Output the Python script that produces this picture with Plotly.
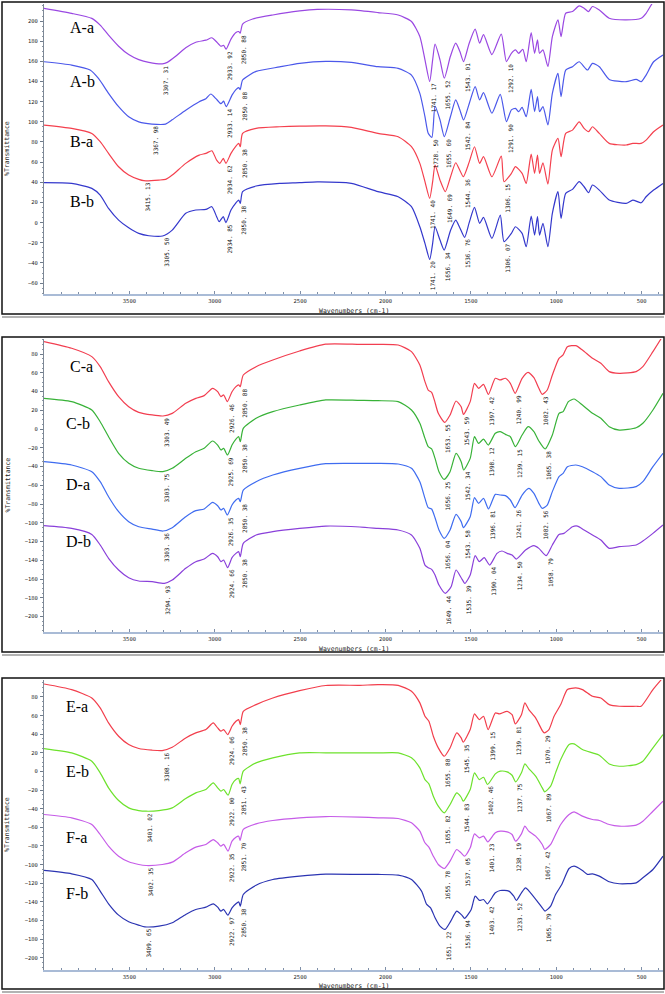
import plotly.graph_objects as go

# ---------------- data (wavenumber cm-1, %Transmittance with offsets) ----------------
WN_AA = [4000, 3838, 3720, 3671, 3622, 3563, 3504, 3445, 3386, 3307.31,
         3278, 3229, 3170, 3111, 3052, 3017, 2993, 2964, 2948, 2933.92,
         2905, 2876, 2860, 2850.88, 2837, 2778, 2660, 2503, 2400, 2200,
         2044, 1926, 1848, 1799, 1769, 1741.17, 1724, 1710, 1681, 1655.52,
         1620, 1589, 1565, 1543.01, 1510, 1475, 1449, 1426, 1377, 1322,
         1292.10, 1263, 1239, 1220, 1196, 1176, 1147, 1127, 1110, 1098,
         1078, 1049, 1023, 990, 972, 945, 905, 866, 837, 811,
         788, 748, 690, 591, 503, 474, 430, 380]
T_AA = [212.6, 207.6, 202.6, 196, 186, 175, 166.7, 161.7, 159, 157.5,
        159, 165, 173.5, 179, 181, 183.4, 180, 175, 176, 172,
        182, 188.6, 189.6, 188, 197, 202, 206, 210, 211.5, 211,
        208.4, 206, 199.5, 184.6, 161.5, 140, 161.5, 177, 161.5, 143.3,
        165, 178, 170, 159.8, 178, 192, 178, 186.5, 166.7, 187,
        159.8, 168, 171.4, 168, 172, 159.8, 188.6, 168, 181.3, 168,
        171.4, 154.9, 184.6, 201.2, 184.6, 207.7, 209.4, 215, 212.7, 209.4,
        214.4, 211, 202.8, 201.2, 202.8, 207.7, 219.3, 224]

WN_AB = [4000, 3838, 3730, 3681, 3622, 3563, 3504, 3445, 3367.98, 3288,
         3249, 3170, 3091, 3052, 3023, 2993, 2964, 2948, 2933.14, 2899,
         2876, 2860, 2850.88, 2837, 2758, 2620, 2503, 2350, 2200, 2044,
         1926, 1848, 1799, 1769, 1750, 1728.50, 1710, 1681, 1655.60, 1620,
         1589, 1565, 1542.84, 1510, 1475, 1449, 1426, 1377, 1328, 1291.90,
         1263, 1239, 1220, 1200, 1176, 1147, 1127, 1110, 1098, 1078,
         1049, 1023, 990, 972, 945, 905, 866, 817, 788, 748,
         690, 591, 532, 503, 474, 430, 375]
T_AB = [159.6, 156.3, 151.4, 143, 128.3, 115, 105, 100, 97.8, 97.8,
        102, 111.6, 120, 123, 127.6, 123, 118, 120.5, 115, 126.5,
        132, 134, 132, 141.5, 150, 154.5, 158, 160, 159, 154.7,
        153, 146.4, 128.2, 105.1, 88.6, 84.6, 115.7, 101.9, 85.3, 105,
        121.7, 112, 101.9, 118, 134.9, 121.7, 128.9, 108.5, 127.3, 100.2,
        111.8, 113.4, 110.1, 114.4, 105.1, 132.2, 110.1, 125, 110.1, 115,
        96.9, 128.2, 148.1, 125, 151.4, 154.7, 159.6, 151.4, 158, 154.7,
        142.1, 139.8, 142.1, 139.8, 146.4, 159.6, 166.3]

WN_BA = [4000, 3838, 3720, 3671, 3622, 3563, 3504, 3445, 3415.13, 3327,
         3288, 3249, 3170, 3091, 3052, 3017, 2989, 2970, 2950, 2934.62,
         2905, 2876, 2860, 2850.38, 2837, 2758, 2620, 2503, 2350, 2200,
         2044, 1926, 1848, 1799, 1769, 1741.40, 1724, 1710, 1681, 1649.69,
         1620, 1589, 1565, 1544.36, 1510, 1479, 1449, 1426, 1377, 1322,
         1306.15, 1263, 1239, 1200, 1176, 1147, 1127, 1110, 1098, 1078,
         1049, 1023, 990, 972, 945, 905, 866, 837, 811, 788,
         748, 690, 591, 552, 503, 474, 430, 375]
T_BA = [96.8, 93.5, 88.5, 80.3, 68.7, 55.4, 47.2, 42.9, 41.6, 42.2,
        42.9, 47.2, 58.8, 67, 68.7, 71.3, 62, 58.8, 63.7, 58.8,
        68.7, 76, 78.6, 75.3, 88.5, 93.5, 95.1, 95.8, 96, 94.5,
        88.5, 85.2, 75.3, 58.8, 40.6, 24, 40.6, 57.1, 42.2, 30.7,
        45, 59.4, 52, 45.5, 60, 75.3, 58.8, 65.4, 45.5, 66,
        40.6, 48.8, 55.5, 48.8, 38.9, 68, 48.8, 67, 48.8, 59.4,
        38.3, 72, 83.6, 65.4, 88.5, 91.8, 100, 93.5, 90.2, 95.1,
        88.5, 78.6, 77, 78.6, 78.6, 81.9, 90.2, 96.8]

WN_BB = [4000, 3838, 3720, 3671, 3622, 3563, 3504, 3445, 3386, 3305.50,
         3249, 3170, 3111, 3052, 3017, 2989, 2974, 2950, 2934.85, 2905,
         2876, 2860, 2850.38, 2837, 2758, 2620, 2503, 2400, 2200, 2044,
         1926, 1848, 1799, 1769, 1741.20, 1724, 1710, 1681, 1656.34, 1620,
         1589, 1565, 1536.76, 1510, 1479, 1449, 1426, 1377, 1328, 1306.07,
         1263, 1239, 1200, 1176, 1147, 1127, 1110, 1098, 1078, 1049,
         1023, 990, 972, 945, 905, 866, 837, 811, 788, 748,
         690, 591, 552, 503, 474, 430, 375]
T_BB = [39.6, 38.9, 34, 27.3, 14.1, 2.5, -5.1, -10.7, -13, -13.3,
        -7.4, 9.2, 12.5, 13.1, 15.8, 5.9, 0.9, 5.9, 0, 12.5,
        19.7, 22.4, 19.1, 30.7, 36.3, 38.9, 39.6, 40.5, 39, 30.7,
        25.7, 15.8, -4.1, -20.6, -36.5, -20.6, -4.1, -17.3, -27.2, -8,
        2.5, -5, -14.6, 0, 15.1, -0.7, 5.2, -15.6, 7.5, -18.9,
        -10.7, -4.1, -10.7, -23.9, 6.5, -12.3, 5.9, -12.3, -0.7, -23.9,
        9.2, 30.7, 4.2, 29, 33, 40.6, 35.6, 29.7, 37.3, 32.3,
        22.4, 19.1, 22.4, 19.7, 25.7, 32.3, 38.9]

WN_CA = [4000, 3838, 3720, 3671, 3622, 3563, 3504, 3445, 3367, 3303.49,
         3249, 3170, 3111, 3062, 3013, 2983, 2964, 2948, 2926.46, 2899,
         2876, 2860, 2850.88, 2833, 2758, 2660, 2503, 2350, 2150, 2044,
         1926, 1848, 1799, 1769, 1750, 1730, 1714, 1691, 1653.55, 1622,
         1587, 1557, 1543.59, 1504, 1479, 1455, 1426, 1397.42, 1357, 1328,
         1298, 1269, 1240.99, 1200, 1165, 1131, 1102, 1082.43, 1053, 1023,
         984, 960, 935, 886, 847, 788, 739, 690, 631, 532,
         493, 434, 385]
T_CA = [93.2, 86.1, 77.2, 66.5, 50.5, 34.5, 23.8, 17.8, 15, 13.9,
        16.7, 27.4, 32.7, 35.6, 43.4, 39.8, 34.5, 36.3, 29.2, 39.8,
        45.2, 47, 45.2, 57.6, 66.5, 73.6, 83.2, 90.5, 90.3, 90.3,
        89.6, 82.5, 68.3, 50.5, 41.6, 39.1, 30.9, 16.7, 7.1, 15,
        29.9, 23.8, 15.6, 29.2, 48.7, 43.4, 47.7, 37, 54.1, 52.3,
        54.1, 48.7, 38.1, 54.1, 60.4, 54.8, 43.4, 37, 41.6, 57.6,
        75.4, 79, 87.8, 88.9, 84.3, 75.4, 70.1, 61.2, 59.4, 61.2,
        66.5, 82.5, 96.7]

WN_CB = [4000, 3838, 3720, 3671, 3622, 3563, 3504, 3445, 3367, 3303.75,
         3249, 3170, 3111, 3062, 3013, 2983, 2964, 2948, 2925.69, 2899,
         2876, 2860, 2850.38, 2833, 2758, 2660, 2503, 2350, 2150, 2044,
         1926, 1848, 1799, 1769, 1750, 1730, 1710, 1687, 1656.25, 1622,
         1587, 1557, 1542.34, 1504, 1479, 1455, 1426, 1398.12, 1357, 1328,
         1298, 1269, 1239.15, 1200, 1165, 1131, 1102, 1065.38, 1023, 984,
         960, 929, 896, 847, 788, 739, 690, 631, 532, 493,
         434, 375]
T_CB = [32.7, 29.2, 20.3, 7.8, -8.2, -26, -36.6, -41.9, -44.4, -45.5,
        -41.9, -31.3, -24.2, -20.6, -12.8, -17.1, -22.4, -20.6, -27.7, -17.1,
        -10.7, -8.2, -13.5, 0.7, 11.4, 18.5, 25.6, 31, 30.5, 30.2,
        29.2, 20.3, 6.1, -10, -18.8, -21.3, -31.3, -45.5, -53.7, -45.5,
        -26, -34.8, -43.7, -31.3, -8.2, -15.3, -10.7, -17.1, -4.6, -2.8,
        -5.7, -8.2, -18.8, -6.4, 2.5, -2.8, -12.8, -21.3, -6.4, 16.7,
        18.5, 29.2, 32, 25.6, 16.7, 11.4, 2.5, -1.1, 1.4, 6.1,
        20.3, 38.1]

WN_DA = [4000, 3838, 3720, 3671, 3622, 3563, 3504, 3445, 3367, 3303.36,
         3249, 3170, 3111, 3062, 3013, 2983, 2964, 2948, 2926.35, 2899,
         2876, 2860, 2850.38, 2833, 2758, 2660, 2503, 2350, 2150, 2044,
         1926, 1848, 1799, 1769, 1750, 1730, 1710, 1687, 1656.04, 1622,
         1587, 1557, 1543.58, 1504, 1479, 1455, 1426, 1396.81, 1357, 1328,
         1298, 1269, 1241.26, 1200, 1161, 1131, 1102, 1082.56, 1053, 1023,
         984, 960, 935, 886, 847, 788, 739, 690, 631, 532,
         493, 434, 375]
T_DA = [-34.8, -38.4, -45.5, -56.2, -72.2, -88.2, -98.8, -104.2, -106.7, -108.8,
        -105.2, -93.5, -87.1, -85.3, -78.2, -81.8, -86.4, -84.6, -91.7, -81.1,
        -75.7, -74, -77.5, -65.1, -56.2, -49.1, -42, -37, -36.7, -36.6,
        -37.3, -41.9, -56.2, -74, -83.9, -85.3, -94.6, -107.7, -116.6, -107.7,
        -91, -98.8, -105.2, -93.5, -73.2, -79.3, -74, -85.3, -69.7, -70.4,
        -71.1, -75.7, -83.9, -70.4, -63.3, -68.6, -79.3, -84.6, -81.1, -66.8,
        -50.8, -47.3, -40.2, -38.4, -40.2, -45.5, -50.8, -59.7, -63.3, -61.5,
        -56.2, -40.2, -25.9]

WN_DB = [4000, 3838, 3720, 3671, 3622, 3563, 3504, 3445, 3367, 3294.93,
         3249, 3170, 3111, 3062, 3013, 2983, 2964, 2948, 2924.66, 2899,
         2876, 2860, 2850.38, 2833, 2758, 2660, 2503, 2350, 2150, 2044,
         1926, 1848, 1799, 1769, 1750, 1730, 1710, 1687, 1649.44, 1616,
         1587, 1557, 1535.39, 1504, 1475, 1451, 1422, 1390.04, 1347, 1318,
         1288, 1259, 1234.50, 1180, 1131, 1102, 1058.79, 1023, 984, 955,
         905, 876, 837, 788, 739, 690, 631, 532, 493, 434,
         375]
T_DB = [-103.1, -106, -112.4, -123.7, -137.9, -150.4, -158.6, -162.1, -162.8, -164.6,
        -161.1, -148.6, -141.5, -138.7, -132.6, -136.2, -141.5, -139.7, -147.9, -137.2,
        -132.6, -130.8, -136.2, -122, -113.1, -109.5, -106, -103.5, -104.5, -106,
        -107.7, -113.1, -127.3, -145.1, -147.9, -149.7, -155.7, -166.4, -175.3, -168.2,
        -150.4, -158.6, -164.6, -155.7, -135.1, -141.5, -137.2, -145.1, -132.6, -130.1,
        -132.6, -134.4, -138.7, -129.1, -124.4, -127.3, -135.1, -123.7, -112.4, -111.3,
        -104.2, -103.5, -107.7, -113.1, -118.4, -127.3, -125.5, -123.7, -119.5, -111.3,
        -102.4]

WN_EA = [4000, 3838, 3720, 3671, 3622, 3563, 3504, 3445, 3367, 3308.16,
         3249, 3170, 3111, 3052, 3009, 2983, 2964, 2948, 2924.06, 2899,
         2876, 2860, 2850.38, 2833, 2758, 2660, 2503, 2350, 2150, 2044,
         1926, 1848, 1799, 1769, 1746, 1720, 1691, 1655.88, 1622, 1583,
         1557, 1545.35, 1504, 1479, 1451, 1426, 1399.15, 1357, 1333, 1288,
         1259, 1239.81, 1204, 1184, 1161, 1121, 1082, 1070.29, 1043, 1013,
         974, 935, 886, 847, 788, 739, 690, 631, 532, 503,
         434, 385]
T_EA = [93.9, 87.9, 78.9, 68.2, 52.1, 37.8, 28.9, 24.6, 22.8, 22.4,
        26, 36, 41.4, 45, 52.1, 46.7, 43.2, 45, 39.6, 48.5,
        53.9, 55.7, 50.3, 64.6, 71.8, 78.9, 86.8, 92.3, 92.5, 93.2,
        92.5, 86.1, 73.6, 59.3, 53.9, 37.8, 25.3, 16.3, 25.3, 41.4,
        36, 31.4, 45, 61.8, 55.7, 59.3, 45, 62.8, 61.8, 64.6,
        61, 51, 61, 73.6, 66.4, 57.5, 43.9, 41.4, 45, 59.3,
        71.8, 87.9, 89.7, 87.9, 80.7, 78.9, 71.8, 70, 70, 70,
        87.9, 98.6]

WN_EB = [4000, 3838, 3720, 3671, 3622, 3563, 3504, 3445, 3401.02, 3327,
         3249, 3170, 3111, 3052, 3009, 2983, 2964, 2948, 2922.00, 2899,
         2876, 2860, 2851.43, 2833, 2758, 2660, 2503, 2350, 2150, 2044,
         1926, 1848, 1799, 1769, 1746, 1720, 1691, 1655.82, 1622, 1583,
         1557, 1544.83, 1504, 1479, 1451, 1426, 1402.46, 1357, 1328, 1288,
         1259, 1237.75, 1204, 1184, 1161, 1121, 1082, 1067.89, 1033, 1004,
         974, 925, 896, 847, 788, 748, 690, 631, 532, 493,
         434, 375]
T_EB = [24.6, 19.9, 11, -1.5, -17.6, -31.2, -39.1, -42, -42.7, -42,
        -39.1, -29.1, -23, -19.4, -12.3, -17.6, -21.2, -19.4, -25.5, -14,
        -8.7, -7.6, -13.3, 0.3, 9.2, 14.6, 19.9, 20, 20, 19.9,
        19.9, 14.6, 3.8, -8.7, -13.3, -26.6, -37.3, -44.5, -35.5, -23,
        -27.7, -32, -19.4, -1.5, -8.7, -6.2, -14, -2.6, 0.3, -0.5,
        -4.1, -11.2, -1.5, 8.1, 3.1, -5.1, -17.6, -21.9, -15.8, -1.5,
        12.8, 28.9, 29.6, 23.5, 19.9, 17.4, 8.1, 5.6, 7.4, 11,
        25.3, 39.6]

WN_FA = [4000, 3838, 3720, 3671, 3622, 3563, 3504, 3445, 3402.35, 3307,
         3249, 3170, 3111, 3052, 3009, 2983, 2964, 2948, 2922.35, 2899,
         2876, 2860, 2851.70, 2833, 2758, 2660, 2503, 2350, 2150, 2044,
         1926, 1848, 1799, 1769, 1746, 1720, 1691, 1655.78, 1622, 1583,
         1557, 1537.05, 1504, 1479, 1451, 1426, 1401.23, 1357, 1328, 1288,
         1259, 1238.19, 1204, 1184, 1161, 1121, 1082, 1067.42, 1033, 1004,
         974, 925, 896, 847, 788, 748, 690, 631, 532, 493,
         434, 375]
T_FA = [-46.2, -49.8, -57, -67.7, -80.2, -91, -97, -99.9, -101, -99.9,
        -97.4, -87.4, -81.3, -78.4, -73.1, -76.6, -80.2, -78.4, -85.6, -74.9,
        -70.6, -69.5, -74.1, -62.3, -56.3, -52.7, -49.8, -48.4, -49, -49.8,
        -50.5, -55.2, -64.1, -76.6, -81.3, -91, -99.9, -104.2, -96.3, -83.8,
        -87.4, -91, -82, -67, -71.3, -69.5, -75.6, -65.9, -64.1, -64.9,
        -67.7, -74.9, -67, -58.8, -64.1, -69.5, -78.4, -83.8, -78.4, -67.7,
        -57, -46.2, -43.4, -48, -51.6, -52.7, -57, -58.8, -57.7, -53.4,
        -42.7, -32]

WN_FB = [4000, 3838, 3720, 3671, 3622, 3563, 3504, 3445, 3409.65, 3327,
         3249, 3170, 3111, 3052, 3009, 2983, 2964, 2948, 2922.97, 2899,
         2876, 2860, 2850.38, 2833, 2758, 2660, 2503, 2350, 2150, 2044,
         1926, 1848, 1789, 1759, 1736, 1710, 1681, 1651.22, 1618, 1583,
         1553, 1536.94, 1498, 1475, 1449, 1426, 1403.42, 1357, 1328, 1278,
         1249, 1233.52, 1204, 1180, 1151, 1112, 1082, 1065.79, 1033, 1004,
         968, 925, 896, 847, 817, 788, 748, 690, 631, 532,
         493, 434, 375]
T_FB = [-106.3, -109.9, -116, -128.5, -142.1, -154.3, -161.4, -165, -166.8, -166.1,
        -162.5, -153.5, -148.2, -145.7, -142.1, -145.7, -150, -148.2, -154.3, -146.4,
        -142.1, -140, -144.6, -132.1, -122.1, -116, -112.4, -110.3, -110.5, -110.6,
        -111.3, -116, -128.5, -142.8, -146.4, -157.1, -166.1, -169.6, -160.7, -150,
        -154.3, -157.8, -148.2, -133.9, -138.5, -137.5, -142.1, -130.3, -127.8, -128.5,
        -133.9, -138.5, -130.3, -125, -130.3, -139.2, -146.4, -150, -144.6, -132.1,
        -121.4, -104.2, -101.7, -106.3, -110.6, -109.9, -112.4, -118.5, -120.6, -119.6,
        -114.2, -105.3, -91]

# peak labels (cm-1)
PK_AA = [3307.31, 2933.92, 2850.88, 1741.17, 1655.52, 1543.01, 1292.10]
PK_AB = [3367.98, 2933.14, 2850.88, 1728.50, 1655.60, 1542.84, 1291.90]
PK_BA = [3415.13, 2934.62, 2850.38, 1741.40, 1649.69, 1544.36, 1306.15]
PK_BB = [3305.50, 2934.85, 2850.38, 1741.20, 1656.34, 1536.76, 1306.07]
PK_CA = [3303.49, 2926.46, 2850.88, 1653.55, 1543.59, 1397.42, 1240.99, 1082.43]
PK_CB = [3303.75, 2925.69, 2850.38, 1656.25, 1542.34, 1398.12, 1239.15, 1065.38]
PK_DA = [3303.36, 2926.35, 2850.38, 1656.04, 1543.58, 1396.81, 1241.26, 1082.56]
PK_DB = [3294.93, 2924.66, 2850.38, 1649.44, 1535.39, 1390.04, 1234.50, 1058.79]
PK_EA = [3308.16, 2924.06, 2850.38, 1655.88, 1545.35, 1399.15, 1239.81, 1070.29]
PK_EB = [3401.02, 2922.00, 2851.43, 1655.82, 1544.83, 1402.46, 1237.75, 1067.89]
PK_FA = [3402.35, 2922.35, 2851.70, 1655.78, 1537.05, 1401.23, 1238.19, 1067.42]
PK_FB = [3409.65, 2922.97, 2850.38, 1651.22, 1536.94, 1403.42, 1233.52, 1065.79]

SAMPLE_NAMES = [["A-a", "A-b", "B-a", "B-b"],
                ["C-a", "C-b", "D-a", "D-b"],
                ["E-a", "E-b", "F-a", "F-b"]]
X_TICKS = [3500, 3000, 2500, 2000, 1500, 1000, 500]
Y_TICKS = [list(range(-60, 201, 20)), list(range(-200, 81, 20)), list(range(-200, 81, 20))]
X_TITLE = "Wavenumbers (cm-1)"
Y_TITLE = "%Transmittance"

# ---------------- figure ----------------
W, H = 665, 994
def px(x):
    return x / W
def py(y):
    return 1 - y / H

series = [
    [(WN_AA, T_AA, PK_AA, "#9a48e2"), (WN_AB, T_AB, PK_AB, "#4b58ea"),
     (WN_BA, T_BA, PK_BA, "#f4404e"), (WN_BB, T_BB, PK_BB, "#3438cc")],
    [(WN_CA, T_CA, PK_CA, "#f23e50"), (WN_CB, T_CB, PK_CB, "#38b238"),
     (WN_DA, T_DA, PK_DA, "#3f6cf0"), (WN_DB, T_DB, PK_DB, "#8a40da")],
    [(WN_EA, T_EA, PK_EA, "#f23e4c"), (WN_EB, T_EB, PK_EB, "#6de22c"),
     (WN_FA, T_FA, PK_FA, "#c65ce8"), (WN_FB, T_FB, PK_FB, "#2b34b2")],
]

# panel geometry (pixels)
plot_top = [4, 339, 680]
plot_bot = [294, 632, 970]
y_ranges = [[-70.8, 216.9], [-216.5, 96], [-213.2, 98.2]]
frame_top = [2, 337, 678]
frame_bot = [314, 652, 989]
title_y = [311, 649, 986]
label_y = [[28, 82, 142, 201], [366, 423, 484, 541], [706, 771, 837, 893]]
label_x = [[68, 68, 68, 68], [68, 64, 64, 64], [64, 64, 64, 64]]
X_LEFT, X_RIGHT = 44, 663

fig = go.Figure()
annotations = []
shapes = []
tickfont = dict(family="DejaVu Sans Mono", size=5.5, color="#2a2a2a")
lblfont = dict(family="DejaVu Sans Mono", size=6, color="#111111")

def val_at(wn, t, w):
    i = min(range(len(wn)), key=lambda k: abs(wn[k] - w))
    return t[i]

layout_axes = {}
for p in range(3):
    sfx = "" if p == 0 else str(p + 1)
    xa, ya = "x" + sfx, "y" + sfx
    for wn, t, pk, col in series[p]:
        assert len(wn) == len(t)
        fig.add_trace(go.Scatter(x=wn, y=t, mode="lines", xaxis=xa, yaxis=ya,
                                 line=dict(color=col, width=1.2, shape="spline", smoothing=0.6),
                                 showlegend=False, hoverinfo="skip"))
        for w in pk:
            annotations.append(dict(
                x=w, y=val_at(wn, t, w), xref=xa, yref=ya,
                text=f"{w:.2f}".replace(".", ". "), textangle=-90,
                xanchor="left", yanchor="top", showarrow=False,
                font=lblfont, xshift=-1, yshift=-1, borderpad=0))
    layout_axes["xaxis" + sfx] = dict(
        domain=[px(X_LEFT), px(X_RIGHT)], range=[4000, 375], anchor=ya,
        tickvals=X_TICKS, ticks="inside", ticklen=3, tickcolor="#7f8fa8",
        minor=dict(dtick=100, tick0=0, ticks="inside", ticklen=2, tickcolor="#7f8fa8"),
        showline=True, linecolor="#a9bbd6", linewidth=2, showgrid=False,
        zeroline=False, tickfont=tickfont, fixedrange=True)
    layout_axes["yaxis" + sfx] = dict(
        domain=[py(plot_bot[p]), py(plot_top[p])], range=y_ranges[p], anchor=xa,
        tickvals=Y_TICKS[p], ticks="outside", ticklen=3, tickcolor="#6f7c8c",
        minor=dict(dtick=5, tick0=0, ticks="outside", ticklen=1.5, tickcolor="#8a96a4"),
        showline=True, linecolor="#7d8896", linewidth=1, showgrid=False,
        zeroline=False, tickfont=tickfont, ticklabelstandoff=1, fixedrange=True)

    # sample names
    for k, name in enumerate(SAMPLE_NAMES[p]):
        annotations.append(dict(x=px(label_x[p][k]), y=py(label_y[p][k]), xref="paper", yref="paper",
                                text=name, showarrow=False, xanchor="left", yanchor="middle",
                                font=dict(family="Liberation Serif", size=16, color="#000000")))
    # axis titles
    annotations.append(dict(x=px((X_LEFT + X_RIGHT) / 2), y=py(title_y[p]), xref="paper", yref="paper",
                            text=X_TITLE, showarrow=False, xanchor="center", yanchor="middle",
                            font=dict(family="DejaVu Sans Mono", size=6.5, color="#222222")))
    annotations.append(dict(x=px(7), y=py((plot_top[p] + plot_bot[p]) / 2), xref="paper", yref="paper",
                            text=Y_TITLE, textangle=-90, showarrow=False, xanchor="center", yanchor="middle",
                            font=dict(family="DejaVu Sans Mono", size=6.5, color="#222222")))
    # frame
    shapes.append(dict(type="rect", xref="paper", yref="paper",
                       x0=px(2), x1=px(664), y0=py(frame_bot[p]), y1=py(frame_top[p]),
                       line=dict(color="#111111", width=1.5), fillcolor="rgba(0,0,0,0)", layer="above"))
    shapes.append(dict(type="line", xref="paper", yref="paper",
                       x0=px(2), x1=px(664), y0=py(frame_bot[p] + 3), y1=py(frame_bot[p] + 3),
                       line=dict(color="#9a9a9a", width=1.5)))

fig.update_layout(width=W, height=H, margin=dict(l=0, r=0, t=0, b=0),
                  paper_bgcolor="white", plot_bgcolor="white",
                  annotations=annotations, shapes=shapes, **layout_axes)

fig.write_html("out.html", config={"displayModeBar": False},
               post_script="document.body.style.margin='0';document.body.style.padding='0';"
                           "document.documentElement.style.overflow='hidden';")
